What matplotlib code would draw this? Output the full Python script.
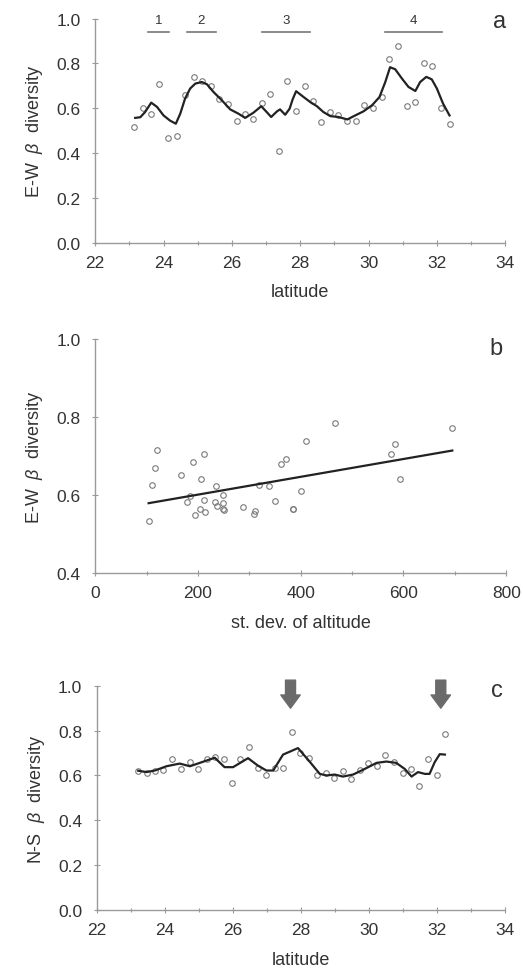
import matplotlib
matplotlib.use("Agg")
import matplotlib.pyplot as plt
from matplotlib.ticker import MultipleLocator

plt.rcParams['font.family'] = ['Liberation Sans', 'DejaVu Sans']
plt.rcParams['mathtext.fontset'] = 'custom'
plt.rcParams['mathtext.rm'] = 'Liberation Sans'
plt.rcParams['mathtext.it'] = 'Liberation Sans:italic'

# panel a: E-W beta diversity along latitude
lat_a = [23.15, 23.40, 23.63, 23.88, 24.14, 24.40, 24.63, 24.89, 25.14, 25.39,
         25.63, 25.88, 26.14, 26.39, 26.62, 26.88, 27.13, 27.38, 27.62, 27.87,
         28.13, 28.38, 28.61, 28.87, 29.12, 29.37, 29.62, 29.87, 30.13, 30.38,
         30.61, 30.87, 31.12, 31.37, 31.61, 31.86, 32.12, 32.37]
ew_a = [0.516, 0.603, 0.574, 0.707, 0.466, 0.475, 0.659, 0.738, 0.723, 0.699,
        0.643, 0.619, 0.543, 0.574, 0.550, 0.625, 0.664, 0.408, 0.723, 0.589,
        0.699, 0.634, 0.539, 0.583, 0.568, 0.543, 0.543, 0.616, 0.601, 0.652,
        0.818, 0.876, 0.610, 0.628, 0.804, 0.787, 0.601, 0.530]
smooth_lat_a = [23.17, 23.32, 23.46, 23.64, 23.81, 24.00, 24.19, 24.36, 24.49, 24.63,
                24.78, 24.93, 25.12, 25.27, 25.46, 25.71, 25.95, 26.19, 26.39, 26.63,
                26.86, 27.02, 27.15, 27.32, 27.41, 27.56, 27.69, 27.78, 27.88, 28.10,
                28.29, 28.49, 28.68, 28.88, 29.12, 29.38, 29.61, 29.85, 30.10, 30.32,
                30.49, 30.63, 30.78, 30.98, 31.17, 31.37, 31.51, 31.69, 31.85, 32.00,
                32.18, 32.37]
smooth_ew_a = [0.557, 0.560, 0.583, 0.625, 0.606, 0.568, 0.545, 0.531, 0.576, 0.643,
               0.688, 0.710, 0.717, 0.707, 0.673, 0.635, 0.595, 0.576, 0.557, 0.580,
               0.609, 0.583, 0.561, 0.586, 0.595, 0.571, 0.598, 0.640, 0.676, 0.650,
               0.628, 0.609, 0.583, 0.565, 0.561, 0.550, 0.568, 0.586, 0.613, 0.650,
               0.717, 0.783, 0.774, 0.732, 0.695, 0.677, 0.717, 0.740, 0.729, 0.688,
               0.621, 0.568]
band_names = ["1", "2", "3", "4"]
band_start = [23.56, 24.68, 26.88, 30.47]
band_end = [24.15, 25.53, 28.29, 32.15]

# panel b: E-W beta diversity vs st. dev. of altitude
sd_b = [104, 111, 117, 121, 167, 178, 184, 190, 194, 204, 206, 211, 212, 213,
        234, 236, 237, 248, 249, 248, 251, 288, 309, 311, 319, 338, 349, 362,
        372, 384, 385, 400, 410, 467, 576, 583, 593, 695]
ew_b = [0.533, 0.625, 0.669, 0.716, 0.651, 0.581, 0.597, 0.685, 0.549, 0.564,
        0.640, 0.705, 0.586, 0.556, 0.582, 0.622, 0.571, 0.600, 0.579, 0.564,
        0.562, 0.568, 0.551, 0.558, 0.626, 0.622, 0.584, 0.680, 0.692, 0.565,
        0.565, 0.611, 0.739, 0.784, 0.705, 0.730, 0.640, 0.771]
fit_sd = [104, 695]
fit_ew = [0.579, 0.714]

# panel c: N-S beta diversity along latitude
lat_c = [23.21, 23.47, 23.72, 23.95, 24.21, 24.47, 24.73, 24.98, 25.23, 25.47,
         25.73, 25.99, 26.21, 26.48, 26.73, 26.98, 27.23, 27.47, 27.73, 27.97,
         28.24, 28.49, 28.74, 28.99, 29.24, 29.49, 29.74, 29.99, 30.24, 30.49,
         30.74, 31.00, 31.24, 31.49, 31.74, 32.00, 32.24]
ns_c = [0.621, 0.612, 0.621, 0.624, 0.674, 0.628, 0.659, 0.628, 0.674, 0.684,
        0.674, 0.565, 0.674, 0.725, 0.634, 0.600, 0.635, 0.635, 0.795, 0.698,
        0.676, 0.601, 0.613, 0.588, 0.621, 0.582, 0.626, 0.656, 0.643, 0.690,
        0.661, 0.612, 0.628, 0.555, 0.674, 0.604, 0.783]
smooth_lat_c = [23.22, 23.46, 23.71, 24.05, 24.44, 24.74, 25.03, 25.47, 25.76, 26.01,
                26.45, 26.74, 26.99, 27.19, 27.48, 27.92, 28.26, 28.56, 28.76, 29.00,
                29.24, 29.54, 29.83, 30.23, 30.52, 30.81, 31.06, 31.26, 31.45, 31.65,
                31.79, 31.94, 32.09, 32.24]
smooth_ns_c = [0.621, 0.615, 0.622, 0.641, 0.653, 0.641, 0.656, 0.679, 0.637, 0.637,
               0.677, 0.644, 0.622, 0.622, 0.693, 0.722, 0.662, 0.607, 0.600, 0.604,
               0.595, 0.604, 0.625, 0.656, 0.662, 0.656, 0.629, 0.595, 0.615, 0.607,
               0.607, 0.659, 0.695, 0.693]
arrow_lat = [27.70, 32.12]

line_color = "#222222"
point_color = "#7a7a7a"
axis_color = "#9a9a9a"
text_color = "#333333"

fig = plt.figure(figsize = (5.23, 9.79), dpi = 100)
ax_a = fig.add_axes([0.182, 0.751, 0.784, 0.229])
ax_b = fig.add_axes([0.182, 0.4137, 0.786, 0.239])
ax_c = fig.add_axes([0.185, 0.0695, 0.780, 0.229])


def style_axis(ax):
    for side in ["top", "right"]:
        ax.spines[side].set_visible(False)
    for side in ["left", "bottom"]:
        ax.spines[side].set_color(axis_color)
        ax.spines[side].set_linewidth(1.0)
    ax.tick_params(which = "both", direction = "inout", color = axis_color, labelcolor = text_color,
                   labelsize = 12.5, width = 0.8)
    ax.tick_params(which = "major", length = 5)
    ax.tick_params(which = "minor", length = 3)
    ax.tick_params(axis = "y", pad = 8)
    ax.tick_params(axis = "x", pad = 6)


def scatter_line(ax, x, y, lx, ly):
    ax.plot(x, y, linestyle = "none", marker = "o", markersize = 4, markerfacecolor = "none",
            markeredgecolor = point_color, markeredgewidth = 0.8)
    ax.plot(lx, ly, color = line_color, linewidth = 1.6)


# a
scatter_line(ax_a, lat_a, ew_a, smooth_lat_a, smooth_ew_a)
for name, s, e in zip(band_names, band_start, band_end):
    ax_a.plot([s, e], [0.94, 0.94], color = "#777777", linewidth = 1.2)
    ax_a.text((s + e) / 2, 0.965, name, ha = "center", va = "bottom", fontsize = 9.5, color = text_color)
ax_a.set_xlim(22, 34)
ax_a.set_ylim(0, 1.0)
ax_a.xaxis.set_major_locator(MultipleLocator(2))
ax_a.xaxis.set_minor_locator(MultipleLocator(1))
ax_a.yaxis.set_major_locator(MultipleLocator(0.2))
ax_a.set_ylabel(r"E-W  $\beta$  diversity", fontsize = 13, color = text_color, labelpad = 8)
ax_a.set_xlabel("latitude", fontsize = 13, color = text_color, labelpad = 10)
ax_a.yaxis.set_major_formatter(plt.FormatStrFormatter("%.1f"))
style_axis(ax_a)
ax_a.text(0.985, 0.99, "a", transform = ax_a.transAxes, fontsize = 17, color = text_color,
          ha = "center", va = "center")

# b
scatter_line(ax_b, sd_b, ew_b, fit_sd, fit_ew)
ax_b.set_xlim(0, 800)
ax_b.set_ylim(0.4, 1.0)
ax_b.xaxis.set_major_locator(MultipleLocator(200))
ax_b.xaxis.set_minor_locator(MultipleLocator(100))
ax_b.yaxis.set_major_locator(MultipleLocator(0.2))
ax_b.yaxis.set_major_formatter(plt.FormatStrFormatter("%.1f"))
ax_b.set_ylabel(r"E-W  $\beta$  diversity", fontsize = 13, color = text_color, labelpad = 8)
ax_b.set_xlabel("st. dev. of altitude", fontsize = 13, color = text_color, labelpad = 10)
style_axis(ax_b)
ax_b.text(0.976, 0.96, "b", transform = ax_b.transAxes, fontsize = 17, color = text_color,
          ha = "center", va = "center")

# c
scatter_line(ax_c, lat_c, ns_c, smooth_lat_c, smooth_ns_c)
for lat in arrow_lat:
    ax_c.annotate("", xy = (lat, 0.90), xytext = (lat, 1.025),
                  arrowprops = dict(arrowstyle = "simple,head_length=0.95,head_width=1.4,tail_width=0.72",
                                    color = "#6a6a6a", shrinkA = 0, shrinkB = 0, mutation_scale = 10),
                  annotation_clip = False)
ax_c.set_xlim(22, 34)
ax_c.set_ylim(0, 1.0)
ax_c.xaxis.set_major_locator(MultipleLocator(2))
ax_c.xaxis.set_minor_locator(MultipleLocator(1))
ax_c.yaxis.set_major_locator(MultipleLocator(0.2))
ax_c.yaxis.set_major_formatter(plt.FormatStrFormatter("%.1f"))
ax_c.set_ylabel(r"N-S  $\beta$  diversity", fontsize = 13, color = text_color, labelpad = 8)
ax_c.set_xlabel("latitude", fontsize = 13, color = text_color, labelpad = 10)
style_axis(ax_c)
ax_c.text(0.982, 0.98, "c", transform = ax_c.transAxes, fontsize = 17, color = text_color,
          ha = "center", va = "center")

plt.savefig("out.png", dpi = 100, format = "png")
plt.close(fig)
